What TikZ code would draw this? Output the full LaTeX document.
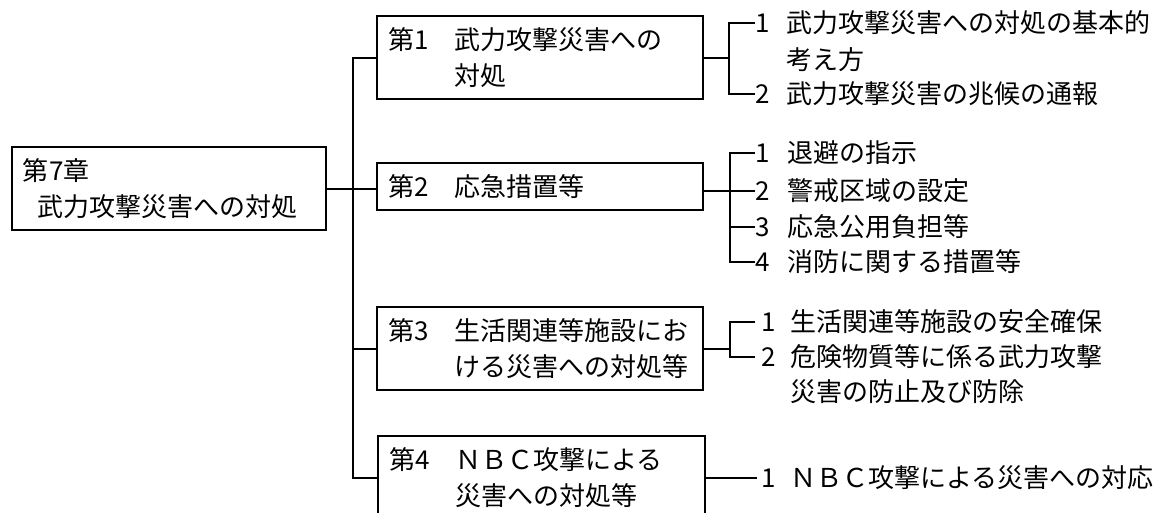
\documentclass[tikz,border=0pt]{standalone}
\usepackage{fontspec}
\newfontfamily\cjk{Noto Sans CJK JP}
\begin{document}
\begin{tikzpicture}[x=1pt,y=-1pt,
  txt/.style={font=\cjk\fontsize{26}{36}\selectfont},
  box/.style={txt,draw,line width=2.6pt,rectangle,inner xsep=11pt,inner ysep=0pt,align=left},
  item/.style={txt,inner sep=0pt,anchor=west},
  conn/.style={line width=2pt}]
\useasboundingbox (0,0) rectangle (1161,512);
% root
\node[box,minimum width=314pt,minimum height=83pt,text width=292pt] (root) at (169,188.5)
  {第7章\\\hspace*{14pt}武力攻撃災害への対処};
% sections
\node[box,minimum width=326pt,minimum height=83pt,text width=304pt] (s1) at (540,57.5)
  {第1　武力攻撃災害への\\\hphantom{第1　}対処};
\node[box,minimum width=326pt,minimum height=47pt,text width=304pt] (s2) at (540,186.5)
  {第2　応急措置等};
\node[box,minimum width=326pt,minimum height=83pt,text width=304pt] (s3) at (540,348.5)
  {第3　生活関連等施設にお\\\hphantom{第3　}ける災害への対処等};
\node[box,minimum width=327pt,minimum height=84pt,text width=305pt] (s4) at (541.5,478)
  {第4　ＮＢＣ攻撃による\\\hphantom{第4　}災害への対処等};
% items
\node[item] (i11) at (755,23) {\makebox[31pt][l]{1}武力攻撃災害への対処の基本的};
\node[item] (i11b) at (786,60) {考え方};
\node[item] (i12) at (755,94) {\makebox[31pt][l]{2}武力攻撃災害の兆候の通報};
\node[item] (i21) at (755,153) {\makebox[32pt][l]{1}退避の指示};
\node[item] (i22) at (755,191) {\makebox[32pt][l]{2}警戒区域の設定};
\node[item] (i23) at (755,227) {\makebox[32pt][l]{3}応急公用負担等};
\node[item] (i24) at (755,262) {\makebox[32pt][l]{4}消防に関する措置等};
\node[item] (i31) at (755,322) {\makebox[35pt][l]{\hspace{6pt}1}生活関連等施設の安全確保};
\node[item] (i32) at (755,357) {\makebox[35pt][l]{\hspace{6pt}2}危険物質等に係る武力攻撃};
\node[item] (i32b) at (790,392) {災害の防止及び防除};
\node[item] (i41) at (757,478) {\makebox[33pt][l]{\hspace{4pt}1}ＮＢＣ攻撃による災害への対応};
% trunk
\coordinate (tr) at (353,0);
\coordinate (b1) at (729,0);
\coordinate (b2) at (730,0);
\coordinate (b3) at (730,0);
\draw[conn] (s1.west) -- (s1.west -| tr) -- (s4.west -| tr) -- (s4.west);
\draw[conn] (root.east) -- (root.east -| s2.west);
\draw[conn] (s3.west -| tr) -- (s3.west);
% bracket 1
\draw[conn] (s1.east) -- (s1.east -| b1);
\draw[conn] (i11.west) -- (i11.west -| b1) -- (i12.west -| b1) -- (i12.west);
% bracket 2
\draw[conn] (s2.east |- i22.west) -- (i22.west);
\draw[conn] (i21.west) -- (i21.west -| b2) -- (i24.west -| b2) -- (i24.west);
\draw[conn] (i23.west -| b2) -- (i23.west);
% bracket 3
\draw[conn] (s3.east) -- (s3.east -| b3);
\draw[conn] (i31.west) -- (i31.west -| b3) -- (i32.west -| b3) -- (i32.west);
% item 4
\draw[conn] (s4.east) -- (i41.west);
\end{tikzpicture}
\end{document}
